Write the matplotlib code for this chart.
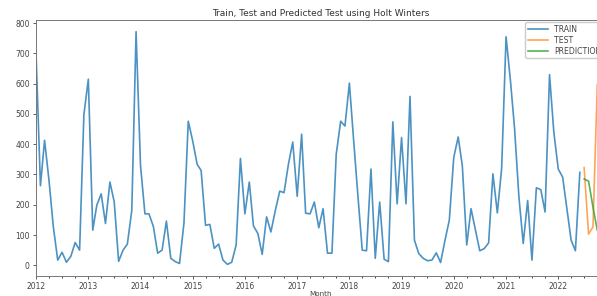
import numpy as np
import pandas as pd
import matplotlib
matplotlib.use("Agg")
import matplotlib.pyplot as plt
import matplotlib.dates as mdates

# monthly values
train_start = "2012-01-01"
train_values = [
    705, 263, 413, 280, 128, 17, 43, 10, 30, 75, 50, 498,      # 2012
    615, 116, 198, 236, 138, 275, 210, 13, 50, 70, 181, 772,   # 2013
    330, 170, 170, 128, 40, 50, 146, 23, 12, 6, 140, 476,      # 2014
    411, 334, 313, 132, 135, 56, 70, 17, 3, 10, 67, 353,       # 2015
    170, 275, 130, 105, 36, 160, 110, 181, 245, 240, 335, 407,  # 2016
    228, 433, 172, 170, 209, 124, 187, 40, 40, 367, 476, 460,  # 2017
    602, 405, 234, 50, 48, 318, 23, 209, 20, 12, 474, 203,     # 2018
    422, 203, 558, 83, 39, 23, 15, 17, 41, 9, 83, 149,         # 2019
    356, 424, 329, 67, 187, 116, 48, 55, 74, 302, 173, 320,    # 2020
    755, 608, 455, 225, 72, 214, 17, 256, 250, 176, 630, 440,  # 2021
    318, 291, 192, 83, 48, 307,                                # 2022
]
test_start = "2022-07-01"
test_values = [323, 103, 127, 597]
pred_values = [285, 278, 192, 116]

train_idx = pd.date_range(train_start, periods=len(train_values), freq="MS")
test_idx = pd.date_range(test_start, periods=len(test_values), freq="MS")
train = pd.Series(train_values, index=train_idx)
test = pd.Series(test_values, index=test_idx)
pred = pd.Series(pred_values, index=test_idx)

fig = plt.figure(figsize=(5.97, 2.96), dpi=100)
ax = fig.add_axes([36 / 597, 20 / 296, 570 / 597, 256 / 296])

ax.plot(train.index, train.values, color="tab:blue", lw=1.2, alpha=0.8, label="TRAIN")
ax.plot(test.index, test.values, color="tab:orange", lw=1.2, alpha=0.7, label="TEST")
ax.plot(pred.index, pred.values, color="tab:green", lw=1.2, alpha=0.8, label="PREDICTION")

ax.set_xlim(pd.Timestamp("2012-01-01"), pd.Timestamp("2022-12-01"))
ax.xaxis.set_major_locator(mdates.YearLocator())
ax.xaxis.set_major_formatter(mdates.DateFormatter("%Y"))
ax.xaxis.set_minor_locator(mdates.MonthLocator(bymonth=[4, 7, 10]))
ax.set_yticks(np.arange(0, 801, 100))

ax.tick_params(labelsize=5.5, length=2.5, width=0.6, pad=2, colors="#444444")
ax.tick_params(which="minor", length=1.5, width=0.5)
for s in ax.spines.values():
    s.set_linewidth(0.7)
    s.set_color("#777777")

ax.set_title("Train, Test and Predicted Test using Holt Winters", fontsize=6.5, pad=3,
             color="#333333")
ax.set_xlabel("Month", fontsize=5.2, labelpad=0, color="#444444")
ax.legend(loc="upper right", fontsize=5.6, labelspacing=0.25, handlelength=2.6,
          borderpad=0.3, borderaxespad=0.3, framealpha=1.0, labelcolor="#444444")

fig.savefig("out.png", dpi=100)
